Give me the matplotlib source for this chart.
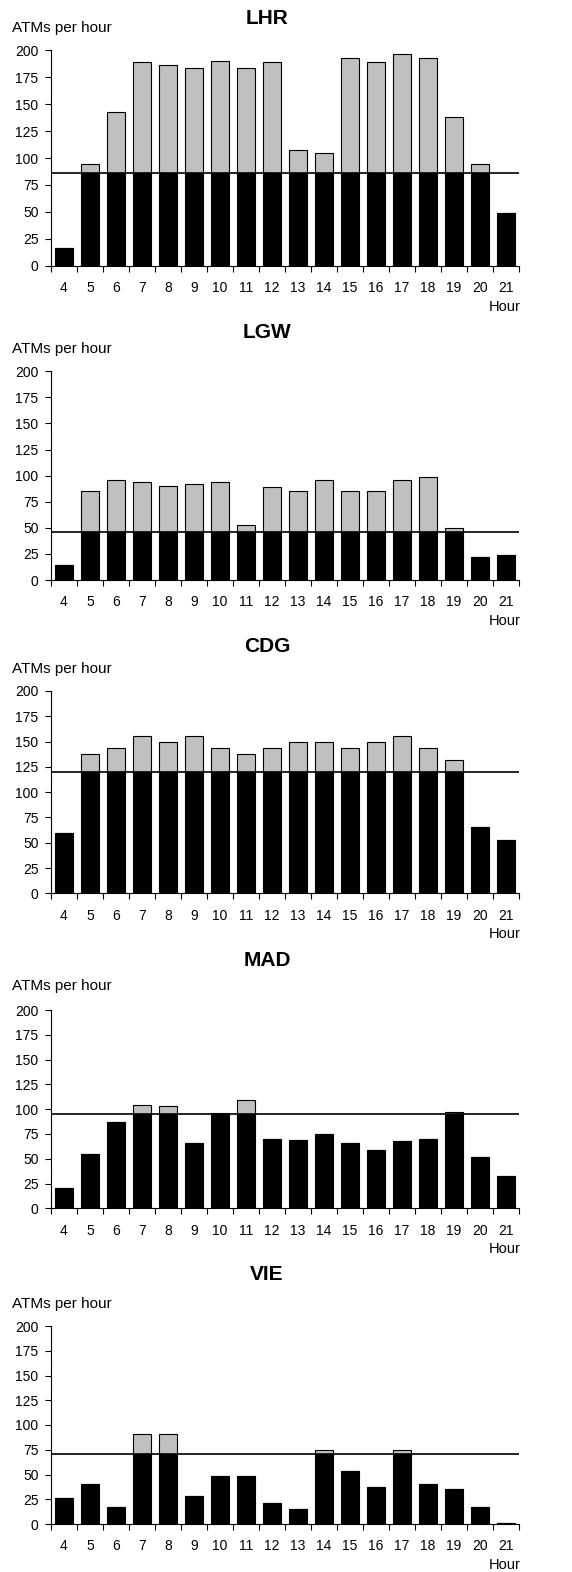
import matplotlib
matplotlib.use("Agg")
from matplotlib import pyplot as plt
import numpy as np

plt.rcParams["font.family"] = ["Liberation Sans", "DejaVu Sans"]

hours = [4, 5, 6, 7, 8, 9, 10, 11, 12, 13, 14, 15, 16, 17, 18, 19, 20, 21]
airports = ["LHR", "LGW", "CDG", "MAD", "VIE"]

# ATMs per hour (demand) per airport
lhr = [16, 94, 143, 189, 186, 184, 190, 184, 189, 107, 105, 193, 189, 197, 193, 138, 94, 49]
lgw = [14, 85, 96, 94, 90, 92, 94, 53, 89, 85, 96, 85, 85, 96, 99, 50, 22, 24]
cdg = [60, 138, 144, 156, 150, 156, 144, 138, 144, 150, 150, 144, 150, 156, 144, 132, 66, 53]
mad = [20, 55, 87, 104, 103, 66, 96, 109, 70, 69, 75, 66, 59, 68, 70, 97, 52, 33]
vie = [26, 40, 17, 91, 91, 28, 48, 48, 21, 15, 75, 54, 37, 75, 40, 35, 17, 1]

# capacity line per airport
capacity = [86, 46, 120, 95, 71]

series = [lhr, lgw, cdg, mad, vie]

W, H = 572, 1572
# axes placement in pixels: (y of 200 tick, y of 0 tick, title y, ylabel y)
panels = [
    (50.3, 265.7, 19, 28),
    (371.3, 580.0, 332, 349),
    (691.0, 893.3, 646, 669),
    (1010.0, 1208.3, 961, 986),
    (1326.0, 1524.0, 1274, 1304),
]
x_left, x_right = 51, 519

fig = plt.figure(figsize=(W / 100, H / 100), dpi=100)

x = np.arange(len(hours))
for name, vals, cap, (ytop, ybot, yt, yl) in zip(airports, series, capacity, panels):
    ax = fig.add_axes([x_left / W, 1 - ybot / H, (x_right - x_left) / W, (ybot - ytop) / H])
    vals = np.array(vals)
    low = np.minimum(vals, cap)
    high = np.where(vals > cap, vals - cap, 0)
    ax.bar(x, low, width=0.72, color="black", edgecolor="black", linewidth=0.8)
    ax.bar(x, high, bottom=low, width=0.72, color="#c0c0c0", edgecolor="black", linewidth=0.8)
    ax.axhline(cap, color="black", linewidth=1.2)

    ax.set_xlim(-0.5, len(hours) - 0.5)
    ax.set_ylim(0, 200)
    ax.set_yticks(range(0, 201, 25))
    ax.set_xticks(np.arange(-0.5, len(hours), 1))
    ax.set_xticklabels([])
    ax.set_xticks(x, minor=True)
    ax.set_xticklabels([str(h) for h in hours], minor=True)
    ax.tick_params(axis="x", which="major", length=4, width=0.8, direction="out")
    ax.tick_params(axis="x", which="minor", length=0, pad=11, labelsize=10)
    ax.tick_params(axis="y", length=4, width=0.8, pad=5, labelsize=10)
    for s in ["top", "right"]:
        ax.spines[s].set_visible(False)
    for s in ["left", "bottom"]:
        ax.spines[s].set_linewidth(0.8)

    fig.text(267 / W, 1 - yt / H, name, ha="center", va="center",
             fontsize=15, fontweight="bold")
    fig.text(12 / W, 1 - yl / H, "ATMs per hour", ha="left", va="center", fontsize=11)
    fig.text(521 / W, 1 - (ybot + 41) / H, "Hour", ha="right", va="center", fontsize=10.5)

plt.savefig("out.png", dpi=100)
